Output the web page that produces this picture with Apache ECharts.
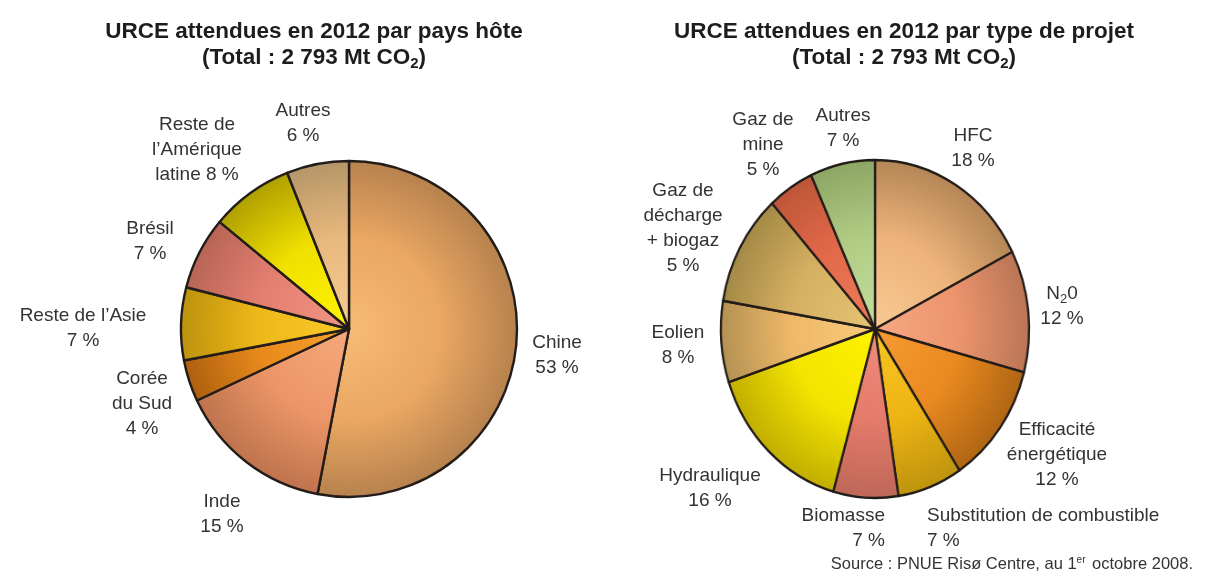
<!DOCTYPE html>
<html><head><meta charset="utf-8">
<script src="https://cdn.jsdelivr.net/npm/echarts@6/dist/echarts.min.js"></script>
<style>
html,body{margin:0;padding:0;background:#fff}
#wrap{position:relative;width:1211px;height:582px;overflow:hidden}
#c{position:absolute;left:0;top:0;width:1211px;height:582px}
#e{position:absolute;left:0;top:0;width:1211px;height:582px;transform:scaleX(0.912);transform-origin:875px 329px;pointer-events:none}
</style>
</head><body><div id="wrap"><div id="e"></div><div id="c"></div></div>
<script>
// ---- Data ----
const countryNames = ['Chine', 'Inde', 'Corée du Sud', 'Reste de l’Asie', 'Brésil', 'Reste de l’Amérique latine', 'Autres'];
const countryValues = [53, 15, 4, 7, 7, 8, 6];
const countryLabels = ['Chine\n53 %', 'Inde\n15 %', 'Corée\ndu Sud\n4 %', 'Reste de l’Asie\n7 %', 'Brésil\n7 %', 'Reste de\nl’Amérique\nlatine 8 %', 'Autres\n6 %'];

const projectNames = ['HFC', 'N2O', 'Efficacité énergétique', 'Substitution de combustible', 'Biomasse', 'Hydraulique', 'Eolien', 'Gaz de décharge + biogaz', 'Gaz de mine', 'Autres'];
const projectValues = [18, 12, 12, 7, 7, 16, 8, 11, 5, 7];
const projectLabels = ['HFC\n18 %', 'N{sub|2}0\n12 %', 'Efficacité\nénergétique\n12 %', 'Substitution de combustible\n7 %', 'Biomasse\n7 %', 'Hydraulique\n16 %', 'Eolien\n8 %', 'Gaz de\ndécharge\n+ biogaz\n5 %', 'Gaz de\nmine\n5 %', 'Autres\n7 %'];

const titleLeft = 'URCE attendues en 2012 par pays hôte\n(Total : 2 793 Mt CO{sub|2})';
const titleRight = 'URCE attendues en 2012 par type de projet\n(Total : 2 793 Mt CO{sub|2})';
const sourceText = 'Source : PNUE Risø Centre, au 1{sup|er} octobre 2008.';

// ---- Styles / layout ----
const FONT = '"Liberation Sans", Arial, Helvetica, sans-serif';
const leftPie = { cx: 349, cy: 329, r: 168 };
const rightPie = { cx: 875, cy: 329, r: 169 };

const countryColors = [
  ['#F7BB76', '#E9A762', '#B7824E'],
  ['#F6A87A', '#EC9668', '#BF734D'],
  ['#F6A030', '#E88A1C', '#AE600E'],
  ['#FACB2A', '#EDB818', '#BC930E'],
  ['#F09484', '#E47F70', '#B86556'],
  ['#FFF400', '#F0E000', '#B0A000'],
  ['#F6CC94', '#E8B87C', '#B59668']
];
const projectColors = [
  ['#F9CA92', '#EDB37C', '#B58656'],
  ['#F6A882', '#EC946E', '#BA7656'],
  ['#F69C32', '#EA8A20', '#B06614'],
  ['#F8C622', '#EEB414', '#BE940E'],
  ['#F08C7C', '#E47A6A', '#BE6858'],
  ['#FFF200', '#F4E400', '#C2AE00'],
  ['#F9CB7C', '#EEB868', '#B49254'],
  ['#E4C474', '#D6B062', '#A48A46'],
  ['#F07C5C', '#E2694A', '#BE5638'],
  ['#C4DE9C', '#B0CC84', '#8EA664']
];

const leftLabelPos = [[557, 355, 'center'], [222, 514, 'center'], [142, 404, 'center'], [83, 328, 'center'], [150, 241, 'center'], [197, 150, 'center'], [303, 123, 'center']];
const rightLabelPos = [[973, 148, 'center'], [1062, 306, 'center'], [1057, 455, 'center'], [927, 528, 'left'], [885, 528, 'right'], [710, 488, 'center'], [678, 345, 'center'], [683, 228, 'center'], [763, 145, 'center'], [843, 128, 'center']];

function grad(p, c) {
  return {
    type: 'radial', x: p.cx, y: p.cy, r: p.r, global: true,
    colorStops: [{ offset: 0, color: c[0] }, { offset: 0.55, color: c[1] }, { offset: 1, color: c[2] }]
  };
}

function makePie(p, names, values, labels, colors, pos, opts) {
  const showFill = opts.fill, showLabel = opts.label;
  return {
    type: 'pie',
    center: [p.cx, p.cy],
    radius: p.r,
    startAngle: 90,
    clockwise: true,
    animation: false,
    silent: true,
    avoidLabelOverlap: false,
    itemStyle: showFill ? { borderColor: '#231d1a', borderWidth: 2.4 } : { borderWidth: 0, opacity: 0 },
    label: {
      show: showLabel,
      position: 'outside',
      fontFamily: FONT,
      fontSize: 19,
      lineHeight: 25,
      color: '#333',
      opacity: 1,
      formatter: (params) => labels[params.dataIndex],
      rich: { sub: { fontSize: 13, fontFamily: FONT, color: '#333', verticalAlign: 'bottom', lineHeight: 25 } }
    },
    labelLine: { show: false },
    labelLayout: (params) => {
      const q = pos[params.dataIndex];
      return { x: q[0], y: q[1], align: q[2], verticalAlign: 'middle' };
    },
    data: names.map((n, i) => ({
      name: n, value: values[i],
      itemStyle: showFill ? { color: grad(p, colors[i]) } : { color: 'rgba(0,0,0,0)' }
    }))
  };
}

const titleStyle = (text) => ({
  text, align: 'center', verticalAlign: 'top',
  fontFamily: FONT, fontSize: 22.5, fontWeight: 'bold', lineHeight: 26, fill: '#1d1d1d',
  rich: { sub: { fontFamily: FONT, fontSize: 15, fontWeight: 'bold', fill: '#1d1d1d', verticalAlign: 'bottom', lineHeight: 26 } }
});

// Main chart: titles, left pie, all labels
const chart = echarts.init(document.getElementById('c'), null, { renderer: 'canvas' });
chart.setOption({
  animation: false,
  graphic: [
    { type: 'text', x: 314, y: 19, style: titleStyle(titleLeft) },
    { type: 'text', x: 904, y: 19, style: titleStyle(titleRight) },
    {
      type: 'text', x: 1193, y: 564,
      style: {
        text: sourceText, align: 'right', verticalAlign: 'middle',
        fontFamily: FONT, fontSize: 16.5, fill: '#333',
        rich: { sup: { fontFamily: FONT, fontSize: 10, fill: '#333', verticalAlign: 'top', padding: [0, 2, 8, 0] } }
      }
    }
  ],
  series: [
    makePie(leftPie, countryNames, countryValues, countryLabels, countryColors, leftLabelPos, { fill: true, label: true }),
    makePie(rightPie, projectNames, projectValues, projectLabels, projectColors, rightLabelPos, { fill: false, label: true })
  ]
});

// Right pie drawn in its own layer, squeezed horizontally into the reference's ellipse
const chartE = echarts.init(document.getElementById('e'), null, { renderer: 'canvas' });
chartE.setOption({
  backgroundColor: '#ffffff',
  animation: false,
  series: [
    makePie(rightPie, projectNames, projectValues, projectLabels, projectColors, rightLabelPos, { fill: true, label: false })
  ]
});
</script></body></html>
